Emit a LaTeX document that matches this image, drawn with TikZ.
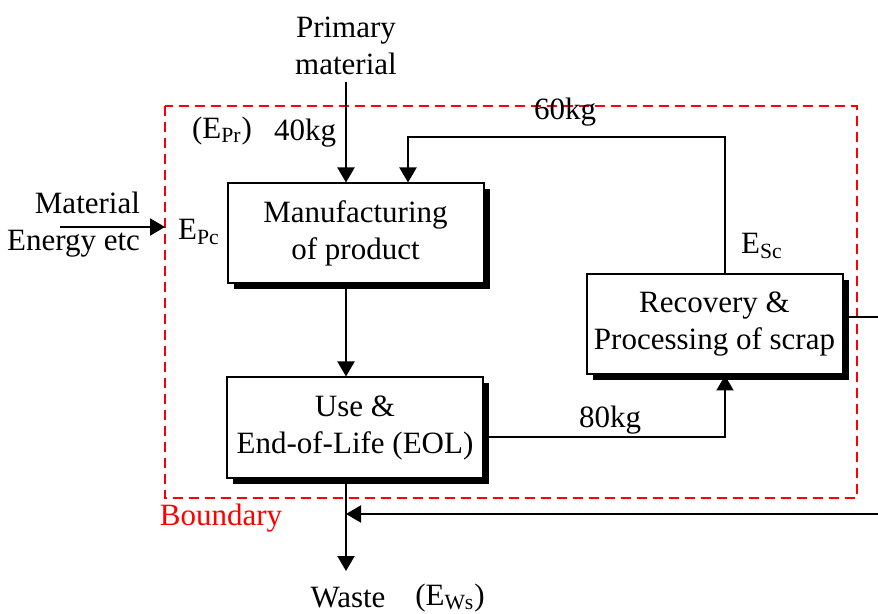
\documentclass[tikz,border=0pt]{standalone}
\usepackage{fontspec}
\setmainfont{Liberation Serif}
\usetikzlibrary{arrows.meta,shadows}

\begin{document}
\begin{tikzpicture}[x=0.5pt,y=-0.5pt]
\tikzstyle{every node}=[font=\fontsize{15.5}{18.5}\selectfont]
\tikzstyle{process}=[rectangle,draw,line width=1pt,fill=white,minimum width=128pt,minimum height=50pt,align=center,inner sep=0pt,drop shadow={shadow xshift=3pt,shadow yshift=-3pt,fill=black,opacity=1}]
\tikzstyle{flow}=[line width=1pt,-{Triangle[length=7.5pt,width=8.5pt]}]
\tikzstyle{line}=[line width=1pt]
\useasboundingbox (0,0) rectangle (878,614);

%System boundary
\draw[red,line width=0.8pt,dash pattern=on 5pt off 3pt] (165,106) rectangle (857,498);
\node[red] (boundary) at (221,518) {Boundary};

%process blocks
\node[process] (manufacturing) at (355.5,233.5) {Manufacturing\\of product};
\node[process] (use)           at (355,427.5)   {Use \&\\End-of-Life (EOL)};
\node[process] (recovery)      at (714.5,324.5) {Recovery \&\\Processing of scrap};

%inputs and outputs
\node[align=center] (primary) at (346,46) {Primary\\material};
\node[align=right,anchor=east] (material) at (147,225) {Material\\Energy etc};
\node (waste) at (348,598) {Waste};
\node (ews)   at (450,598) {(E\textsubscript{Ws})};

%labels
\node (epr) at (222,131) {(E\textsubscript{Pr})};
\node (epc) at (199,232) {E\textsubscript{Pc}};
\node (esc) at (762,246) {E\textsubscript{Sc}};
\node (w40) at (305,133) {40kg};
\node (w60) at (565,112) {60kg};
\node (w80) at (610,420) {80kg};

%turning points
\coordinate (matstart)  at (60,227);
\coordinate (matend)    at (165,227);
\coordinate (loopright) at (725,137);
\coordinate (loopleft)  at (408,137);
\coordinate (eolturn)   at (725,437);
\coordinate (rightout)  at (878,317);
\coordinate (rightin)   at (878,514);
\coordinate (wasteend)  at (346,571);

% connections
\draw[flow] (matstart) -- (matend);
\draw[flow] (primary) -- (primary |- manufacturing.north);
\draw[flow] (manufacturing.south -| primary) -- (use.north -| primary);
\draw[flow] (use.south -| primary) -- (wasteend);
\draw[flow] (use.east |- eolturn) -- (eolturn) -- (eolturn |- recovery.south);
\draw[flow] (recovery.north -| loopright) -- (loopright) -- (loopleft) -- (loopleft |- manufacturing.north);
\draw[line] (recovery.east |- rightout) -- (rightout);
\draw[flow] (rightin) -- (rightin -| primary);

\end{tikzpicture}
\end{document}
